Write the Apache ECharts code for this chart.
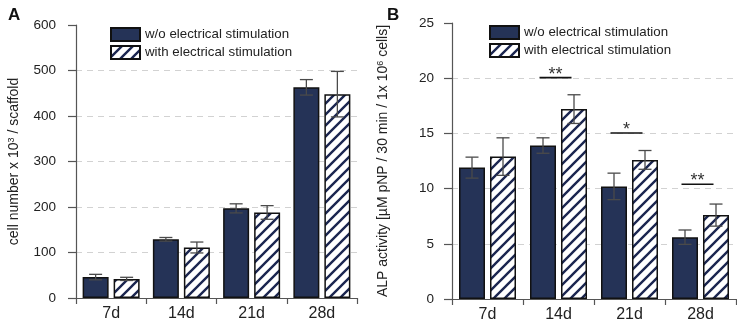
<!DOCTYPE html>
<html>
<head>
<meta charset="utf-8">
<script src="https://cdn.jsdelivr.net/npm/echarts@6/dist/echarts.min.js"></script>
<style>
  html, body { margin: 0; padding: 0; background: #fff; }
  #plot { width: 737px; height: 327px; }
</style>
</head>
<body>
<div id="plot"></div>
<script>
// data
var days = ['7d', '14d', '21d', '28d'];
var seriesNames = ['w/o electrical stimulation', 'with electrical stimulation'];

// A: cell number x 10^3 / scaffold
var cellWo = [46, 129, 197, 463];
var cellWoErr = [6, 4, 10, 17];
var cellWith = [42, 111, 188, 448];
var cellWithErr = [3.5, 12, 15, 50];
var cellTicks = [0, 100, 200, 300, 400, 500, 600];

// B: ALP activity
var alpWo = [11.9, 13.9, 10.2, 5.6];
var alpWoErr = [0.95, 0.7, 1.2, 0.65];
var alpWith = [12.9, 17.2, 12.6, 7.6];
var alpWithErr = [1.7, 1.3, 0.85, 1.0];
var alpTicks = [0, 5, 10, 15, 20, 25];

// significance bars in B
var sigDays = ['14d', '21d', '28d'];
var sigLevels = [20.05, 15.03, 10.4];
var sigMarks = ['**', '*', '**'];

var navy = '#253357';
var barW = 26;
var barGapPx = 5;
var font = 'Liberation Sans, Arial, sans-serif';

// hatch pattern "/"
var hatch = document.createElement('canvas');
var P = 11;
hatch.width = P; hatch.height = P;
var hc = hatch.getContext('2d');
hc.fillStyle = '#fff';
hc.fillRect(0, 0, P, P);
hc.strokeStyle = '#1b2650';
hc.lineWidth = 2.4;
hc.beginPath();
hc.moveTo(-1, P + 1); hc.lineTo(P + 1, -1);
hc.moveTo(-2, 2); hc.lineTo(2, -2);
hc.moveTo(P - 2, P + 2); hc.lineTo(P + 2, P - 2);
hc.stroke();

var myChart = echarts.init(document.getElementById('plot'));

function errSeries(vals, errs, side, axisIdx) {
  return {
    type: 'custom',
    xAxisIndex: axisIdx,
    yAxisIndex: axisIdx,
    z: 5,
    silent: true,
    data: vals.map(function (v, i) { return [i, v, errs[i]]; }),
    encode: { x: 0, y: 1 },
    renderItem: function (params, api) {
      var c = api.coord([api.value(0), api.value(1)]);
      var x = c[0] + side * (barW + barGapPx) / 2;
      var top = api.coord([api.value(0), api.value(1) + api.value(2)])[1];
      var bot = api.coord([api.value(0), api.value(1) - api.value(2)])[1];
      var st = { stroke: '#4a4a4a', lineWidth: 1.3 };
      return {
        type: 'group',
        children: [
          { type: 'line', shape: { x1: x, y1: top, x2: x, y2: bot }, style: st },
          { type: 'line', shape: { x1: x - 6.5, y1: top, x2: x + 6.5, y2: top }, style: st },
          { type: 'line', shape: { x1: x - 6.5, y1: bot, x2: x + 6.5, y2: bot }, style: st }
        ]
      };
    }
  };
}

function barSeries(name, vals, axisIdx, fill) {
  return {
    name: name,
    type: 'bar',
    xAxisIndex: axisIdx,
    yAxisIndex: axisIdx,
    data: vals,
    barWidth: barW,
    barGap: (barGapPx / barW * 100) + '%',
    z: 2,
    itemStyle: { color: fill, borderColor: '#111', borderWidth: 1.5 }
  };
}

var hatchFill = { image: hatch, repeat: 'repeat' };

function xAx(gridIndex) {
  return {
    type: 'category',
    gridIndex: gridIndex,
    data: days,
    axisLine: { lineStyle: { color: '#555', width: 1.2 } },
    axisTick: { show: true, length: 6, lineStyle: { color: '#555', width: 1.2 } },
    axisLabel: { fontSize: 16, margin: 8, color: '#222', fontFamily: font },
    splitLine: { show: false }
  };
}

function yAx(gridIndex, ticks, name, gap, labelMargin) {
  return {
    type: 'value',
    gridIndex: gridIndex,
    min: ticks[0],
    max: ticks[ticks.length - 1],
    interval: ticks[1] - ticks[0],
    name: name,
    nameLocation: 'middle',
    nameGap: gap,
    nameTextStyle: {
      fontSize: 14,
      color: '#222',
      fontFamily: font,
      rich: {
        sup: { fontSize: 9, verticalAlign: 'top', color: '#222', fontFamily: font, padding: [0, 0, 6, 0] }
      }
    },
    axisLine: { show: true, lineStyle: { color: '#555', width: 1.2 } },
    axisTick: { show: true, length: 8, lineStyle: { color: '#555', width: 1.2 } },
    axisLabel: { fontSize: 13.5, margin: labelMargin, color: '#222', fontFamily: font },
    splitLine: {
      show: true,
      showMaxLine: false,
      showMinLine: false,
      lineStyle: { color: '#d2d2d2', type: [6, 5], width: 1.2 }
    }
  };
}

var legendBase = {
  orient: 'vertical',
  icon: 'rect',
  itemWidth: 29,
  itemHeight: 13,
  itemGap: 3,
  padding: 0,
  selectedMode: false,
  textStyle: { fontSize: 13.3, color: '#222', fontFamily: font },
  data: seriesNames
};

var option = {
  animation: false,
  backgroundColor: '#fff',
  title: [
    { text: 'A', left: 3, top: 2, textStyle: { fontSize: 17, fontWeight: 'bold', color: '#111', fontFamily: font } },
    { text: 'B', left: 382, top: 2, textStyle: { fontSize: 17, fontWeight: 'bold', color: '#111', fontFamily: font } }
  ],
  legend: [
    Object.assign({ left: 110, top: 27 }, legendBase),
    Object.assign({ left: 489, top: 25 }, legendBase)
  ],
  grid: [
    { left: 76, top: 25, width: 281, height: 273, outerBoundsMode: 'none' },
    { left: 452, top: 23, width: 284, height: 276, outerBoundsMode: 'none' }
  ],
  xAxis: [xAx(0), xAx(1)],
  yAxis: [
    yAx(0, cellTicks, 'cell number x 10{sup|3} / scaffold', 54, 20),
    yAx(1, alpTicks, 'ALP activity [µM pNP / 30 min / 1x 10{sup|6} cells]', 61, 18)
  ],
  series: [
    barSeries(seriesNames[0], cellWo, 0, navy),
    barSeries(seriesNames[1], cellWith, 0, hatchFill),
    barSeries(seriesNames[0], alpWo, 1, navy),
    barSeries(seriesNames[1], alpWith, 1, hatchFill),
    errSeries(cellWo, cellWoErr, -1, 0),
    errSeries(cellWith, cellWithErr, 1, 0),
    errSeries(alpWo, alpWoErr, -1, 1),
    errSeries(alpWith, alpWithErr, 1, 1),
    {
      type: 'custom',
      xAxisIndex: 1,
      yAxisIndex: 1,
      z: 6,
      silent: true,
      data: sigDays.map(function (d, i) { return [d, sigLevels[i], sigMarks[i]]; }),
      encode: { x: 0, y: 1 },
      renderItem: function (params, api) {
        var c = api.coord([api.value(0), api.value(1)]);
        var x = c[0] - 3;
        return {
          type: 'group',
          children: [
            { type: 'line', shape: { x1: x - 16, y1: c[1], x2: x + 16, y2: c[1] }, style: { stroke: '#111', lineWidth: 1.6 } },
            { type: 'text', style: { x: x, y: c[1] + 6, text: sigMarks[params.dataIndex], textAlign: 'center', textVerticalAlign: 'bottom', fontSize: 18, fill: '#333', fontFamily: font } }
          ]
        };
      }
    }
  ]
};

myChart.setOption(option);
</script>
</body>
</html>
